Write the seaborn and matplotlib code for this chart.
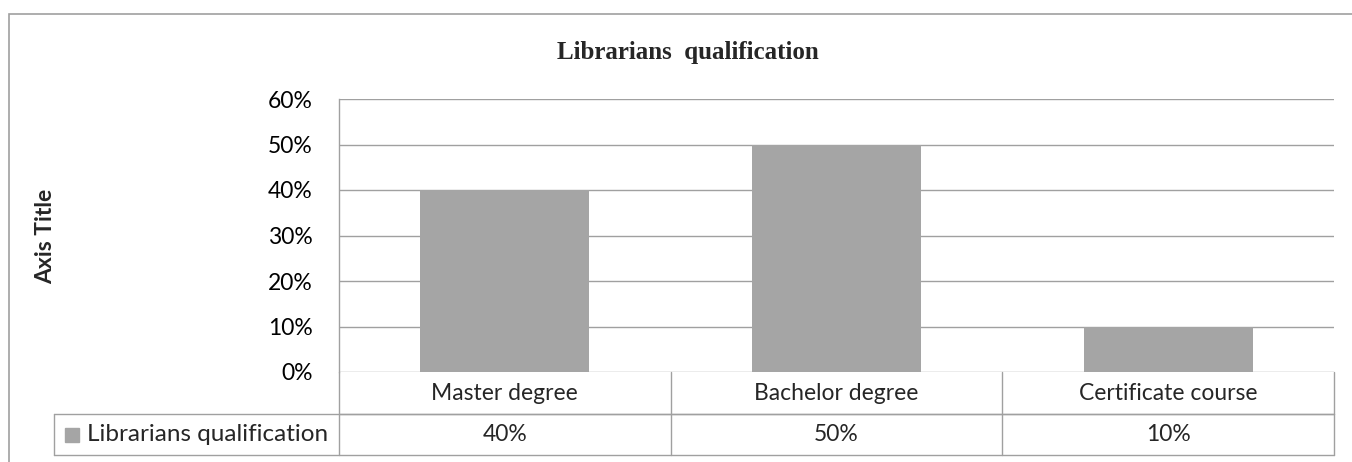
import numpy as np
import pandas as pd
import matplotlib
matplotlib.use('Agg')
import matplotlib.pyplot as plt
import matplotlib.transforms as mtransforms
from matplotlib.patches import Rectangle
import seaborn as sns

sns.set_theme(style='white')
plt.rcParams['font.family'] = ['Lato', 'DejaVu Sans']

# veriler
categories = ['Master degree', 'Bachelor degree', 'Certificate course']
values = [0.40, 0.50, 0.10]
series_name = 'Librarians qualification'
chart_title = 'Librarians  qualification'
y_ticks = [0, 0.1, 0.2, 0.3, 0.4, 0.5, 0.6]
value_labels = ['40%', '50%', '10%']

df = pd.DataFrame({'category': categories, 'value': values})

W, H = 1352, 462
fig = plt.figure(figsize=(W / 100, H / 100), dpi=100)
fig.patch.set_facecolor('white')

# cizim alani (piksel olarak)
left, right, top, bottom = 339, 1334, 99, 372
ax = fig.add_axes([left / W, 1 - bottom / H, (right - left) / W, (bottom - top) / H])

bar_color = '#A5A5A5'
line_color = '#A0A0A0'
fs = 16.5

sns.barplot(data=df, x='category', y='value', color=bar_color, width=0.51,
            saturation=1, linewidth=0, ax=ax, zorder=3)
ax.set_ylim(0, 0.6)
ax.set_xlim(-0.5, len(categories) - 0.5)
ax.set_yticks(y_ticks)
ax.set_yticklabels([f'{int(round(t * 100))}%' for t in y_ticks], fontsize=fs, color='black')
ax.tick_params(axis='y', length=0, pad=19)
ax.set_xticks([])
ax.set_xlabel('')
ax.set_ylabel('')
for t in y_ticks:
    ax.axhline(t, color=line_color, lw=1, zorder=1)
for s in ['top', 'right', 'bottom']:
    ax.spines[s].set_visible(False)
ax.spines['left'].set_color(line_color)
ax.spines['left'].set_linewidth(1)

# veri tablosu
ph = bottom - top
r1 = -42 / ph
r2 = -83 / ph
lab_left = (54 - left) / (right - left)
trans = mtransforms.blended_transform_factory(ax.transData, ax.transAxes)
n = len(categories)
for xb in np.arange(-0.5, n, 1.0):
    ax.plot([xb, xb], [0, r2], transform=trans, color=line_color, lw=1, clip_on=False)
ax.plot([-0.5, n - 0.5], [r1, r1], transform=trans, color=line_color, lw=1, clip_on=False)
ax.plot([lab_left, 1], [r1, r1], transform=ax.transAxes, color=line_color, lw=1, clip_on=False)
ax.plot([lab_left, 1], [r2, r2], transform=ax.transAxes, color=line_color, lw=1, clip_on=False)
ax.plot([lab_left, lab_left], [r1, r2], transform=ax.transAxes, color=line_color, lw=1, clip_on=False)

for i, (c, v) in enumerate(zip(categories, value_labels)):
    ax.text(i, r1 / 2, c, transform=trans, ha='center', va='center', fontsize=fs)
    ax.text(i, (r1 + r2) / 2, v, transform=trans, ha='center', va='center', fontsize=fs)

ax.add_patch(Rectangle(((65 - left) / (right - left), (r1 + r2) / 2 - 7 / ph), 14 / (right - left), 14 / ph,
                       transform=ax.transAxes, color=bar_color, clip_on=False))
ax.text((87 - left) / (right - left), (r1 + r2) / 2, series_name, transform=ax.transAxes,
        ha='left', va='center', fontsize=fs + 1)

# baslik ve eksen basligi
fig.text(688 / W, 1 - 52 / H, chart_title, ha='center', va='center', fontsize=18,
         fontweight='bold', family='Liberation Serif')
fig.text(46 / W, 1 - 236 / H, 'Axis Title', ha='center', va='center', rotation=90,
         fontsize=fs, fontweight='bold')

# dis cerceve
fig.patches.append(Rectangle((9 / W, -0.1), 2, 1.1 - 14 / H, transform=fig.transFigure,
                             fill=False, edgecolor='#A0A0A0', lw=1.2))

fig.savefig('out.png', dpi=100)
